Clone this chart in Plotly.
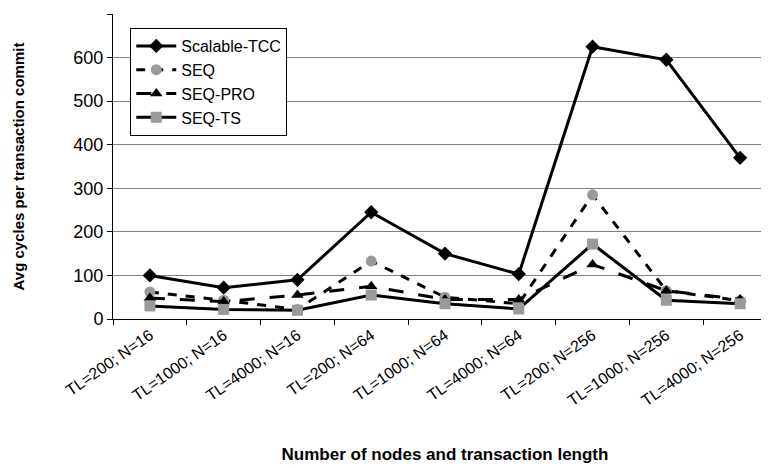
import plotly.graph_objects as go

categories = ['TL=200; N=16', 'TL=1000; N=16', 'TL=4000; N=16',
              'TL=200; N=64', 'TL=1000; N=64', 'TL=4000; N=64',
              'TL=200; N=256', 'TL=1000; N=256', 'TL=4000; N=256']
scalable_tcc = [100, 72, 90, 245, 150, 103, 625, 595, 370]
seq = [62, 43, 22, 133, 50, 35, 285, 65, 42]
seq_pro = [48, 40, 55, 75, 45, 45, 125, 65, 45]
seq_ts = [30, 22, 20, 55, 35, 23, 172, 43, 35]

fig = go.Figure()
fig.add_trace(go.Scatter(x=categories, y=scalable_tcc, name='Scalable-TCC', mode='lines+markers',
    line=dict(color='black', width=3),
    marker=dict(symbol='diamond', size=11, color='black')))
fig.add_trace(go.Scatter(x=categories, y=seq, name='SEQ', mode='lines+markers',
    line=dict(color='black', width=3, dash='dash'),
    marker=dict(symbol='circle', size=11, color='#9a9a9a')))
fig.add_trace(go.Scatter(x=categories, y=seq_pro, name='SEQ-PRO', mode='lines+markers',
    line=dict(color='black', width=3, dash='longdash'),
    marker=dict(symbol='triangle-up', size=11, color='black')))
fig.add_trace(go.Scatter(x=categories, y=seq_ts, name='SEQ-TS', mode='lines+markers',
    line=dict(color='black', width=3),
    marker=dict(symbol='square', size=11, color='#9a9a9a')))

# the page body has an 8px margin, so the margins here are shifted by that
fig.update_layout(
    width=769, height=468,
    margin=dict(l=105, r=0, t=6, b=157),
    plot_bgcolor='white', paper_bgcolor='white',
    font=dict(family='Liberation Sans, Arial, sans-serif', color='black'),
    legend=dict(x=0.026, y=0.954, xanchor='left', yanchor='top',
                bgcolor='white', bordercolor='black', borderwidth=1,
                font=dict(size=16), tracegroupgap=0, itemwidth=40),
)
fig.update_xaxes(
    type='category', range=[-0.5, 8.5], automargin=False,
    tickson='boundaries', ticks='outside', ticklen=5, tickcolor='black',
    tickangle=-35, tickfont=dict(size=16),
    showline=True, linecolor='black', linewidth=1, showgrid=False,
    title=dict(text='<b>Number of nodes and transaction length</b>', font=dict(size=17), standoff=40),
)
fig.update_yaxes(
    range=[0, 700], dtick=100, ticks='outside', ticklen=5, tickcolor='black',
    tickfont=dict(size=18), automargin=False,
    showline=True, linecolor='black', linewidth=1,
    showgrid=True, gridcolor='#808080', gridwidth=1, zeroline=False,
    title=dict(text='<b>Avg cycles per transaction commit</b>', font=dict(size=15), standoff=45),
)

fig.write_html("out.html")
